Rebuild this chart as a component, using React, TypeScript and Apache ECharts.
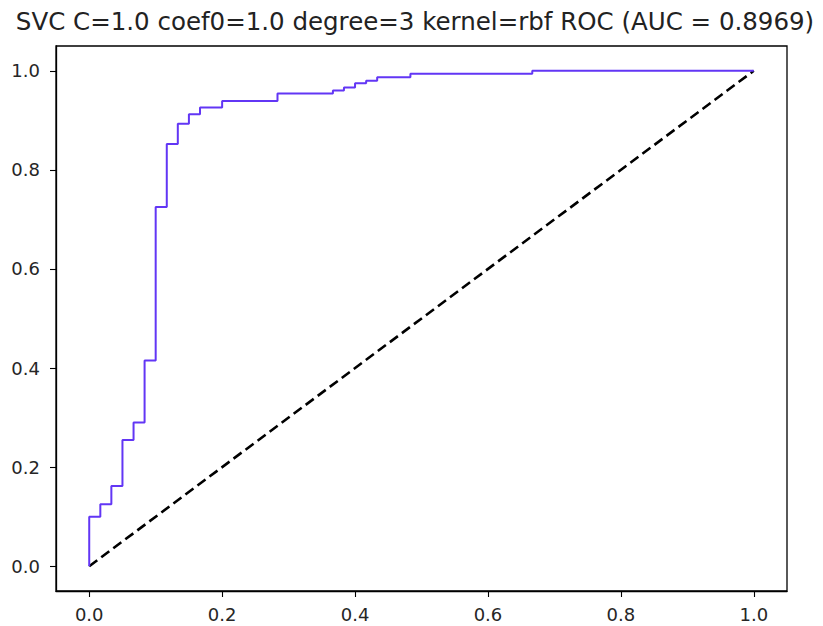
import React, { useEffect, useRef } from "react";
import * as echarts from "echarts";

const titleText = "SVC C=1.0 coef0=1.0 degree=3 kernel=rbf ROC (AUC = 0.8969)";
const tickValues = [0, 0.2, 0.4, 0.6, 0.8, 1.0];
const fpr = [0, 0, 0.0167, 0.0167, 0.0333, 0.0333, 0.05, 0.05, 0.0667, 0.0667, 0.0833, 0.0833, 0.1, 0.1, 0.1167, 0.1167, 0.1333, 0.1333, 0.15, 0.15, 0.1667, 0.1667, 0.2, 0.2, 0.2833, 0.2833, 0.3667, 0.3667, 0.3833, 0.3833, 0.4, 0.4, 0.4167, 0.4167, 0.4333, 0.4333, 0.4833, 0.4833, 0.6667, 0.6667, 1.0];
const tpr = [0, 0.1, 0.1, 0.125, 0.125, 0.162, 0.162, 0.255, 0.255, 0.29, 0.29, 0.415, 0.415, 0.725, 0.725, 0.852, 0.852, 0.893, 0.893, 0.912, 0.912, 0.926, 0.926, 0.939, 0.939, 0.954, 0.954, 0.96, 0.96, 0.966, 0.966, 0.975, 0.975, 0.98, 0.98, 0.987, 0.987, 0.994, 0.994, 1.0, 1.0];
const diagX = [0, 1];
const diagY = [0, 1];

export default function App() {
  const ref = useRef<HTMLDivElement>(null);
  useEffect(() => {
    if (!ref.current) return;
    const chart = echarts.init(ref.current, undefined, { renderer: "svg" });
    const font = "DejaVu Sans";
    const axisCommon = {
      type: "value" as const,
      min: -0.05,
      max: 1.05,
      splitLine: { show: false },
      axisLine: { show: true, onZero: false, lineStyle: { color: "#000", width: 1.3 } },
      axisTick: { show: true, inside: false, length: 6, customValues: tickValues, lineStyle: { color: "#000", width: 1.1 } },
      axisLabel: {
        customValues: tickValues,
        formatter: (v: number) => v.toFixed(1),
        color: "#262626",
        fontSize: 18,
        fontFamily: font,
      },
    };
    chart.setOption({
      animation: false,
      backgroundColor: "#fff",
      grid: { left: 56, right: 36, top: 46, bottom: 35, show: true, borderColor: "#000", borderWidth: 1.3 },
      xAxis: { ...axisCommon, axisLabel: { ...axisCommon.axisLabel, margin: 14 } },
      yAxis: { ...axisCommon, axisLabel: { ...axisCommon.axisLabel, margin: 16 } },
      graphic: [
        {
          type: "text",
          x: 415,
          y: 21,
          style: {
            text: titleText,
            fontSize: 24.5,
            fontFamily: font,
            fill: "#222",
            textAlign: "center",
            textVerticalAlign: "middle",
          },
        },
      ],
      series: [
        {
          type: "line",
          data: fpr.map((x, i) => [x, tpr[i]]),
          showSymbol: false,
          symbol: "none",
          lineStyle: { color: "#6236f5", width: 2 },
          z: 3,
        },
        {
          type: "line",
          data: diagX.map((x, i) => [x, diagY[i]]),
          showSymbol: false,
          symbol: "none",
          lineStyle: { color: "#000", width: 2.6, type: [10, 5] },
          z: 2,
        },
      ],
    });
    return () => chart.dispose();
  }, []);
  return <div ref={ref} style={{ position: "fixed", left: 0, top: 0, width: 823, height: 626 }} />;
}
